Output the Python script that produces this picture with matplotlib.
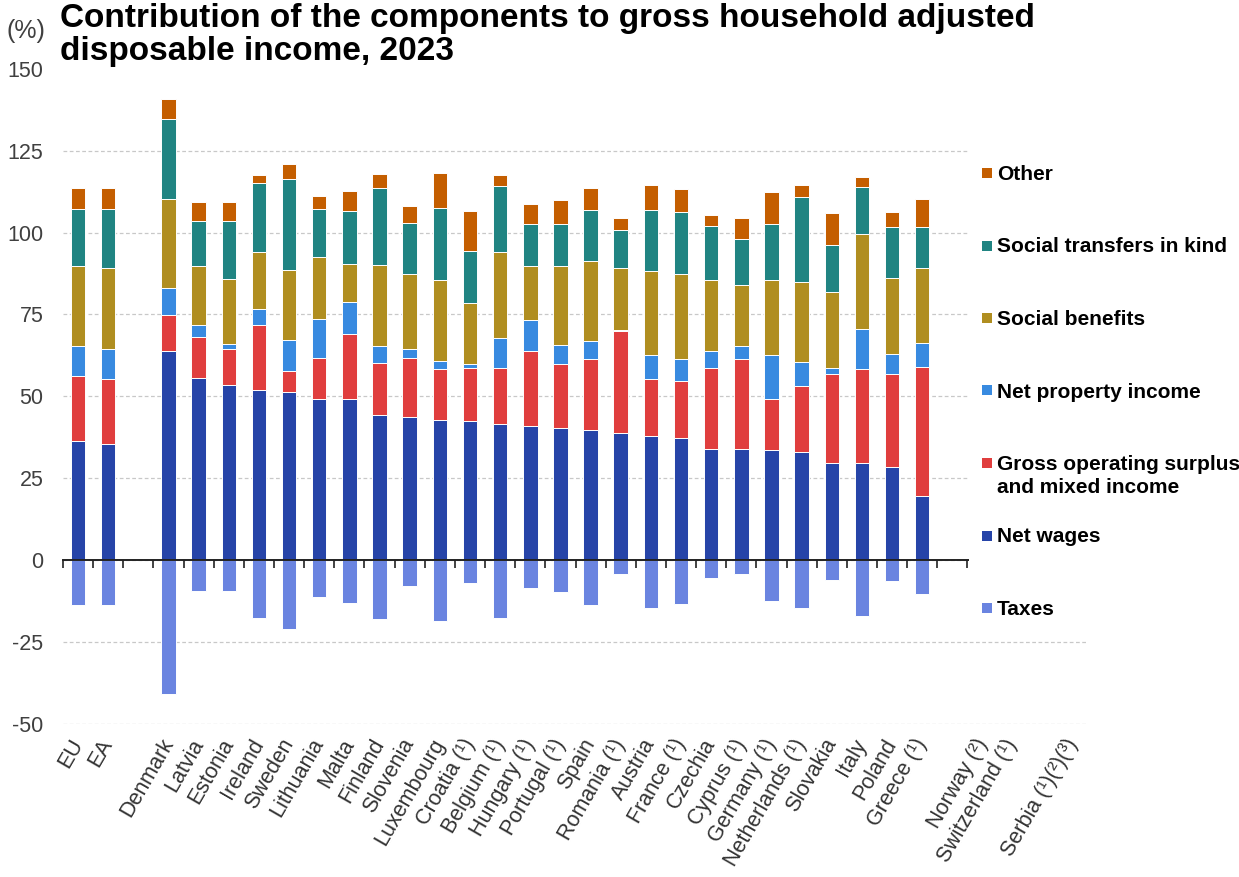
import numpy as np
import matplotlib
matplotlib.use("Agg")
import matplotlib.pyplot as plt
from matplotlib.patches import Rectangle

plt.rcParams["font.family"] = ["Liberation Sans", "DejaVu Sans"]
plt.rcParams["axes.unicode_minus"] = False

nan = np.nan

# categories along the x axis; "" leaves an empty slot
countries = [
    "EU", "EA", "", "Denmark", "Latvia", "Estonia", "Ireland", "Sweden",
    "Lithuania", "Malta", "Finland", "Slovenia", "Luxembourg", "Croatia (¹)",
    "Belgium (¹)", "Hungary (¹)", "Portugal (¹)", "Spain", "Romania (¹)",
    "Austria", "France (¹)", "Czechia", "Cyprus (¹)", "Germany (¹)",
    "Netherlands (¹)", "Slovakia", "Italy", "Poland", "Greece (¹)", "",
    "Norway (²)", "Switzerland (¹)", "", "Serbia (¹)(²)(³)",
]

# contributions in % of adjusted disposable income (EU ... Greece)
net_wages = [36.3, 35.5, nan, 63.8, 55.5, 53.5, 51.8, 51.3, 49.2, 49.2, 44.4, 43.6,
             42.8, 42.3, 41.4, 41.0, 40.2, 39.8, 38.9, 38.0, 37.1, 33.9, 33.9, 33.6,
             33.1, 29.7, 29.7, 28.3, 19.4]
gross_surplus = [19.8, 19.7, nan, 10.9, 12.6, 11.0, 19.9, 6.4, 12.6, 19.9, 15.7, 18.1,
                 15.4, 16.4, 17.3, 22.8, 19.7, 21.5, 30.9, 17.2, 17.7, 24.7, 27.4, 15.6,
                 20.1, 27.2, 28.5, 28.6, 39.6]
property_income = [9.1, 9.1, nan, 8.5, 3.6, 1.6, 4.8, 9.6, 11.9, 9.7, 5.1, 2.6,
                   2.5, 1.2, 9.1, 9.4, 5.6, 5.5, 0.5, 7.3, 6.5, 5.3, 4.0, 13.4,
                   7.2, 1.7, 12.4, 6.1, 7.4]
social_benefits = [24.5, 25.0, nan, 27.0, 18.1, 19.8, 17.6, 21.2, 18.7, 11.7, 25.0, 22.9,
                   24.7, 18.7, 26.2, 16.5, 24.2, 24.6, 19.0, 25.9, 25.9, 21.5, 18.8, 22.8,
                   24.5, 23.2, 28.9, 23.2, 22.9]
transfers_in_kind = [17.6, 18.0, nan, 24.5, 13.7, 17.6, 21.1, 27.8, 14.9, 16.0, 23.3, 15.7,
                     22.2, 15.8, 20.3, 12.8, 12.8, 15.5, 11.6, 18.4, 19.2, 16.7, 13.8, 17.1,
                     25.8, 14.3, 14.3, 15.4, 12.3]
other = [6.3, 6.3, nan, 6.1, 5.9, 5.9, 2.5, 4.6, 3.8, 6.2, 4.5, 5.1,
         10.7, 12.3, 3.2, 6.1, 7.3, 6.7, 3.4, 7.8, 6.8, 3.4, 6.4, 9.8,
         3.9, 9.9, 3.2, 4.7, 8.6]
taxes = [-13.7, -13.7, nan, -41.0, -9.4, -9.4, -17.6, -21.1, -11.2, -13.0, -18.0, -8.1,
         -18.5, -6.9, -17.6, -8.6, -9.9, -13.7, -4.3, -14.7, -13.3, -5.5, -4.3, -12.4,
         -14.6, -6.0, -17.1, -6.5, -10.4]

series = [
    ("Net wages", net_wages, "#2644a8"),
    ("Gross operating surplus\nand mixed income", gross_surplus, "#e03e3e"),
    ("Net property income", property_income, "#388ae0"),
    ("Social benefits", social_benefits, "#b08e20"),
    ("Social transfers in kind", transfers_in_kind, "#208482"),
    ("Other", other, "#c45e00"),
]
tax_color = "#6a84e0"

W, H = 1239, 877
fig = plt.figure(figsize=(W / 100, H / 100), dpi=100)
ax = fig.add_axes([63 / W, 1 - 723.7 / H, 1025 / W, (723.7 - 68.8) / H])

n = len(countries)
x = np.arange(n)


def pad(values):
    # no data for the trailing non-EU slots
    return np.array(values + [nan] * (n - len(values)), dtype=float)


bottom = np.zeros(n)
for label, values, color in series:
    v = pad(values)
    ax.bar(x, v, 0.48, bottom=bottom, color=color, edgecolor="white", linewidth=0.7, zorder=2)
    bottom = bottom + np.nan_to_num(v)
ax.bar(x, pad(taxes), 0.48, color=tax_color, edgecolor="white", linewidth=0.7, zorder=2)

ax.set_xlim(-0.5, n - 0.5)
ax.set_ylim(-50, 150)
ax.set_yticks(np.arange(-50, 151, 25))
ax.yaxis.grid(True, color="#c8c8c8", linestyle=(0, (3, 2)), linewidth=0.9)
ax.get_ygridlines()[-1].set_visible(False)
ax.set_axisbelow(True)
ax.tick_params(axis="y", length=0, pad=14, labelsize=15.5, labelcolor="#404040")
for s in ax.spines.values():
    s.set_visible(False)

ax.set_xticks(x, countries, rotation=60, ha="right", va="center", rotation_mode="anchor")
ax.tick_params(axis="x", length=0, pad=12, labelsize=15.5, labelcolor="#333333")

# category axis drawn through zero
zero = ax.secondary_xaxis(0, transform=ax.transData)
zero.set_xticks(np.arange(-0.5, n, 1.0))
zero.tick_params(length=6, width=1.2, color="#222222", labelbottom=False)
zero.spines["bottom"].set_linewidth(1.4)
zero.spines["bottom"].set_color("#222222")
zero.set_zorder(3)

fig.text(60 / W, 1 - 3 / H,
         "Contribution of the components to gross household adjusted\ndisposable income, 2023",
         ha="left", va="top", fontsize=24, fontweight="bold", linespacing=1.1)
fig.text(7 / W, 1 - 31 / H, "(%)", ha="left", va="center", fontsize=18, color="#404040")

# legend panel on the right
fig.add_artist(Rectangle((969 / W, 1 - 630 / H), (W - 969) / W, (630 - 140) / H,
                         transform=fig.transFigure, facecolor="white", edgecolor="none", zorder=5))
legend_items = [(lab, col) for lab, _, col in reversed(series)] + [("Taxes", tax_color)]
for i, (label, color) in enumerate(legend_items):
    yc = 173 + 72.5 * i
    fig.add_artist(Rectangle((982 / W, 1 - (yc + 5) / H), 10 / W, 10 / H,
                             transform=fig.transFigure, facecolor=color, edgecolor="none", zorder=6))
    for j, line in enumerate(label.split("\n")):
        fig.text(997 / W, 1 - (yc + 7 + 23 * j) / H, line, ha="left", va="baseline",
                 fontsize=15, fontweight="bold", zorder=6)

fig.savefig("out.png", dpi=100)
